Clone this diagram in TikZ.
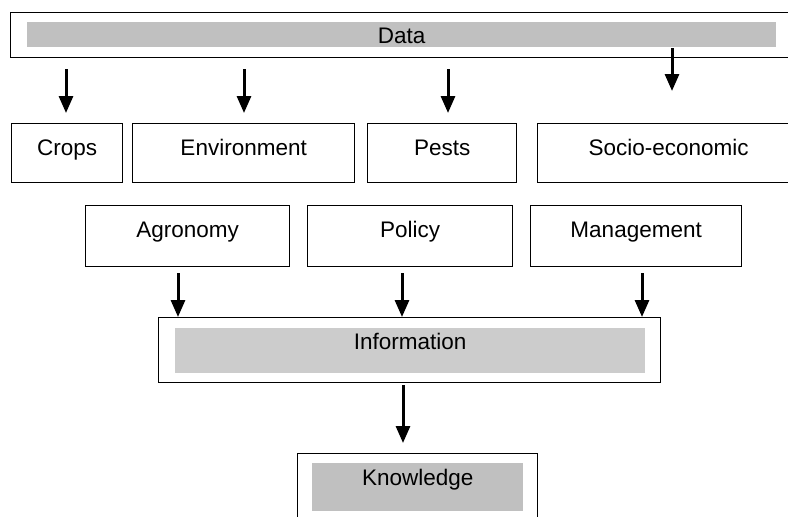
\documentclass[tikz,border=0pt]{standalone}
\usepackage{fontspec}
\setmainfont{Liberation Sans}
\usetikzlibrary{arrows.meta}
\definecolor{barA}{RGB}{192,192,192}
\definecolor{barB}{RGB}{204,204,204}
\begin{document}
\begin{tikzpicture}[x=1pt,y=-1pt,
  txt/.style={font=\fontsize{22.5}{27}\selectfont},
  box/.style={draw=black, line width=1.3pt, inner sep=0pt, anchor=north west, txt},
  bar/.style={fill=#1, draw=none, inner sep=0pt, anchor=north west, txt},
  arr/.style={line width=3pt, -{Triangle[width=14pt,length=17pt]}}]
\useasboundingbox (0,0) rectangle (788,517);
\clip (0,0) rectangle (788,517);
\fill[white] (0,0) rectangle (788,517);
% Data
\node[box, minimum width=783pt, minimum height=45pt] (dataout) at (10,12) {};
\node[bar=barA, minimum width=749pt, text height=21pt, text depth=4pt] (data) at (27,22) {Data};
% row 1
\node[box, minimum width=111pt, text height=32pt, text depth=27pt] (crops) at (11,123) {Crops};
\node[box, minimum width=222pt, text height=32pt, text depth=27pt] (env) at (132,123) {Environment};
\node[box, minimum width=149pt, text height=32pt, text depth=27pt] (pests) at (367,123) {Pests};
\node[box, minimum width=262pt, text height=32pt, text depth=27pt] (socio) at (537,123) {Socio-economic};
% row 2
\node[box, minimum width=204pt, text height=32pt, text depth=29pt] (agro) at (85,205) {Agronomy};
\node[box, minimum width=205pt, text height=32pt, text depth=29pt] (policy) at (307,205) {Policy};
\node[box, minimum width=211pt, text height=32pt, text depth=29pt] (mgmt) at (530,205) {Management};
% Information
\node[box, minimum width=502pt, minimum height=65pt] (infoout) at (158,317) {};
\node[bar=barB, minimum width=470pt, text height=21pt, text depth=24pt] (info) at (175,328) {Information};
% Knowledge
\node[box, minimum width=240pt, minimum height=80pt] (knowout) at (297,453) {};
\node[bar=barA, minimum width=211pt, text height=22pt, text depth=26pt] (know) at (312,463) {Knowledge};
% arrow start points
\coordinate (s1) at (66,69);
\coordinate (s2) at (244,69);
\coordinate (s3) at (448,69);
\coordinate (s4) at (672,48);
\coordinate (s5) at (178,273);
\coordinate (s6) at (402,273);
\coordinate (s7) at (642,273);
\coordinate (s8) at (403,385);
\draw[arr, shorten >=10pt] (s1) -- (s1 |- crops.north);
\draw[arr, shorten >=10pt] (s2) -- (s2 |- env.north);
\draw[arr, shorten >=10pt] (s3) -- (s3 |- pests.north);
\draw[arr, shorten >=32pt] (s4) -- (s4 |- socio.north);
\draw[arr] (s5) -- (s5 |- infoout.north);
\draw[arr] (s6) -- (s6 |- infoout.north);
\draw[arr] (s7) -- (s7 |- infoout.north);
\draw[arr, shorten >=10pt] (s8) -- (s8 |- knowout.north);
\end{tikzpicture}
\end{document}
